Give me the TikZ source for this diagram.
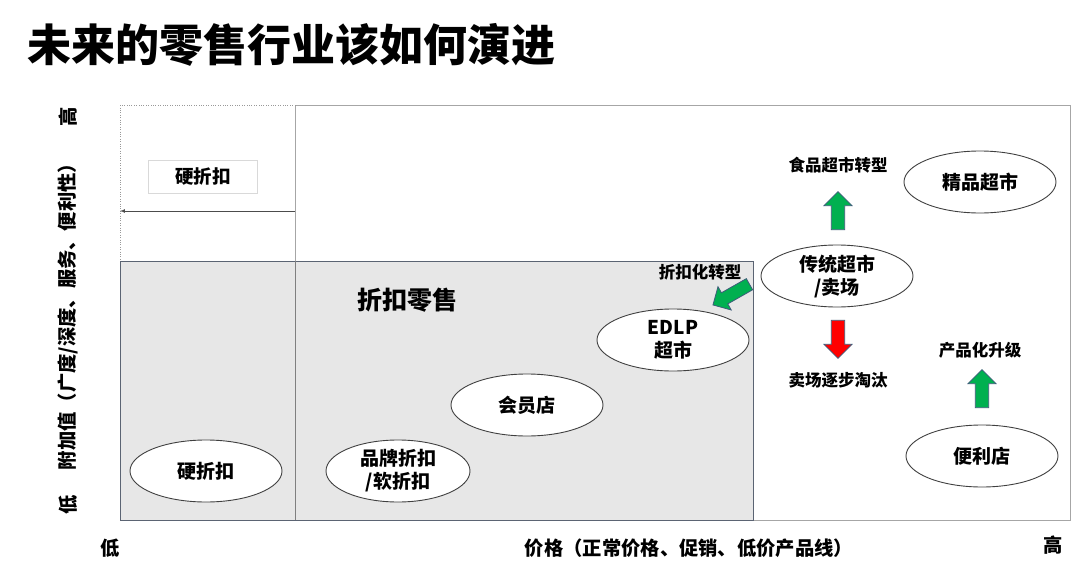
\documentclass[tikz,border=0pt]{standalone}
\usepackage{fontspec}
\setmainfont{Noto Sans CJK SC}
\usetikzlibrary{shapes.geometric,shapes.arrows}
\definecolor{boxgray}{HTML}{E7E7E7}
\definecolor{boxline}{HTML}{5B6473}
\definecolor{arrowgreen}{HTML}{00B050}
\definecolor{arrowline}{HTML}{3E5C7A}

\begin{document}
\begin{tikzpicture}[x=1pt,y=-1pt,
  shop/.style={ellipse,draw=black!75,line width=0.9pt,fill=white,minimum width=152pt,minimum height=62pt,inner sep=0pt,align=center,font=\fontsize{19}{23}\selectfont\bfseries},
  note/.style={font=\fontsize{16.5}{19}\selectfont\bfseries},
  axis/.style={font=\fontsize{19.3}{21}\selectfont\bfseries},
  move/.style={single arrow,draw=arrowline,line width=0.8pt,fill=arrowgreen,minimum height=38pt,minimum width=28pt,inner sep=6pt,single arrow head extend=7pt}]
\useasboundingbox (0,0) rectangle (1080,570);
\node[anchor=west,font=\fontsize{44}{48}\selectfont\bfseries] (title) at (24,45) {未来的零售行业该如何演进};
% frames
\draw[gray!70,line width=0.9pt] (295,105) rectangle (1070,520);
\draw[dotted,gray!80] (295,105)--(120,105)--(120,520);
\filldraw[fill=boxgray,draw=boxline,line width=1pt] (120,261) rectangle (753,520);
\draw[gray,line width=0.8pt] (295,261)--(295,520);
\coordinate (edge) at (295,211);
\coordinate (far) at (120,211);
\draw[black!70,line width=0.7pt,-latex] (edge)--(far);
\node[draw=gray!30,fill=white,minimum width=109pt,minimum height=33pt,font=\fontsize{18.5}{20}\selectfont\bfseries] (hard1) at (203,177) {硬折扣};
% axes
\node[axis,rotate=90] (yhi) at (68,117) {高};
\node[axis,rotate=90] (ylo) at (68,505) {低};
\node[axis,rotate=90] (ylab) at (68,312) {附加值（广度/深度、服务、便利性）};
\node[axis] (xlo) at (110,548) {低};
\node[axis] (xlab) at (689,548) {价格（正常价格、促销、低价产品线）};
\node[axis] (xhi) at (1053,545) {高};
% shops
\node[font=\fontsize{25}{28}\selectfont\bfseries] (disc) at (407,300) {折扣零售};
\node[shop] (hard2) at (206,471) {硬折扣};
\node[shop,minimum width=144pt] (brand) at (398,471) {品牌折扣\\/软折扣};
\node[shop] (member) at (527,405) {会员店};
\node[shop] (edlp) at (673,340) {EDLP\\超市};
\node[shop] (trad) at (837,276) {传统超市\\/卖场};
\node[shop] (fine) at (980,182) {精品超市};
\node[shop] (conv) at (982,456) {便利店};
% moves
\node[note] (food) at (838,165) {食品超市转型};
\node[note] (out) at (838,380) {卖场逐步淘汰};
\node[note] (prod) at (980,350) {产品化升级};
\node[note] (toward) at (700,272) {折扣化转型};
\node[move,rotate=90] (up1) at (838,214) {};
\node[move,rotate=-90,fill=red] (down1) at (838,336) {};
\node[move,rotate=90] (up2) at (982,392) {};
\node[move,rotate=209.6,minimum height=42pt,minimum width=26pt] (diag) at (734,293) {};
\end{tikzpicture}
\end{document}
